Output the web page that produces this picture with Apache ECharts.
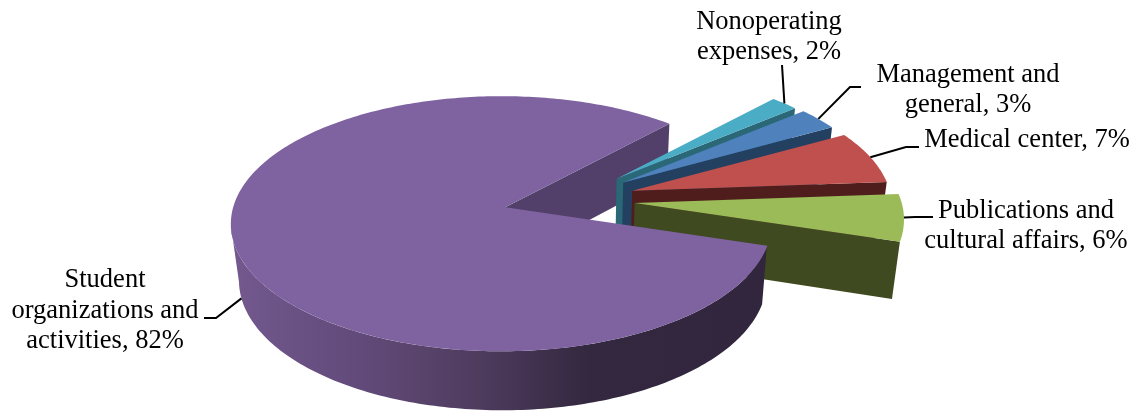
<!DOCTYPE html>
<html>
<head>
<meta charset="utf-8">
<style>html,body{margin:0;padding:0;background:#fff}#chart{width:1135px;height:412px}</style>
<script src="https://cdn.jsdelivr.net/npm/echarts@6/dist/echarts.min.js"></script>
</head>
<body>
<div id="chart"></div>
<script>
// Expense shares, listed clockwise from the first slice.
const categories = ['Management and\ngeneral', 'Medical center', 'Publications and\ncultural affairs',
  'Student\norganizations and\nactivities', 'Nonoperating\nexpenses'];
const shares = [3, 7, 6, 82, 2];

// Appearance of each slice, in the same order.
const topColors = ['#4f81bd', '#c0504d', '#9bbb59', '#7f63a1', '#4bacc6'];
const wallColors = ['#234061', '#4f1e1c', '#3f4a20', '#53406a', '#2a6878'];
const radiusScale = [0.96, 0.975, 1.012, 1, 0.95];

// Label placement: centre of the text, then the leader's elbow and end.
const labelCentres = [[968, 90], [1027, 140], [1026, 226], [105, 311], [769, 37]];
const leaderBends = [[[850, 87], [861, 87]], [[906, 147], [919, 147]], [[915, 217], [933, 217]],
  [[216, 318], [204, 318]], [[782, 65]]];
const leaderOnBase = [false, false, false, true, false];

// Back-to-front painting order; the large slice sits in front of the others.
const paintOrder = [4, 0, 1, 2, 3];
const LARGE = 3;

const FIRST_ANGLE = 49.8;      // clockwise from 12 o'clock
const CENTRE = [569, 199.5];
const EXPLODE = [66, 30];
const RX = 268, RY = 125.4, PITCH = 0.129, YAW = 0.015;
const DEPTH = 57, CONVERGE = 0.976, VANISH_X = 570;

const total = shares.reduce((a, b) => a + b, 0);
const spans = [];
shares.reduce((start, v) => {
  const end = start + v / total * 360;
  spans.push([start, end]);
  return end;
}, FIRST_ANGLE);

const rad = d => d * Math.PI / 180;

function apexOf(i) {
  const mid = rad((spans[i][0] + spans[i][1]) / 2);
  return [CENTRE[0] + EXPLODE[0] * Math.sin(mid), CENTRE[1] - EXPLODE[1] * Math.cos(mid)];
}

// Perspective projection of a point on the tilted disc, on the top or base plane.
function project(i, u, v, base) {
  const a = apexOf(i);
  const w = 1 - PITCH * v + YAW * u;
  const x = a[0] + RX * u / w;
  const y = a[1] + RY * v / w;
  if (!base) return [x, y];
  return [VANISH_X + (x - VANISH_X) * CONVERGE, y + DEPTH + (y - 240) * 0.018];
}

function rim(i, deg, base) {
  const r = radiusScale[i];
  return project(i, r * Math.sin(rad(deg)), -r * Math.cos(rad(deg)), base);
}
const hub = (i, base) => project(i, 0, 0, base);

function arc(i, from, to, base) {
  const pts = [];
  const n = Math.max(2, Math.ceil(Math.abs(to - from)));
  for (let k = 0; k <= n; k++) pts.push(rim(i, from + (to - from) * k / n, base));
  return pts;
}

function polygon(api, pts, fill) {
  return {
    type: 'polygon',
    shape: { points: pts.map(p => api.coord(p)) },
    style: { fill: fill, stroke: null }
  };
}

const largeWallFill = new echarts.graphic.LinearGradient(232, 0, 765, 0, [
  { offset: 0, color: '#73598e' },
  { offset: 0.22, color: '#634b7c' },
  { offset: 0.32, color: '#5c4670' },
  { offset: 0.5, color: '#4a3859' },
  { offset: 0.67, color: '#33283f' },
  { offset: 1, color: '#31263d' }
], true);

function radialWall(api, i) {
  const end = spans[i][1];
  return polygon(api, [hub(i), rim(i, end), rim(i, end, true), hub(i, true)], wallColors[i]);
}

function renderLargeBackWall(params, api) {
  return radialWall(api, api.value(0));
}

function renderSlice(params, api) {
  const i = api.value(0);
  const children = [];
  if (i !== LARGE) children.push(radialWall(api, i));

  // Only the part of the rim that faces the viewer gets an outer wall.
  const from = Math.max(spans[i][0], 108);
  const to = Math.min(spans[i][1], 262);
  if (to > from) {
    const fill = i === LARGE ? largeWallFill : wallColors[i];
    children.push(polygon(api, arc(i, from, to, false).concat(arc(i, to, from, true)), fill));
  }
  children.push(polygon(api, [hub(i)].concat(arc(i, spans[i][0], spans[i][1], false)), topColors[i]));
  return { type: 'group', children: children };
}

function renderLabel(params, api) {
  const i = api.value(0);
  const mid = (spans[i][0] + spans[i][1]) / 2;
  const tip = rim(i, mid, leaderOnBase[i]);
  const line = [tip].concat(leaderBends[i]).map(p => api.coord(p));
  const centre = api.coord(labelCentres[i]);
  return {
    type: 'group',
    children: [
      {
        type: 'polyline',
        shape: { points: line },
        style: { stroke: '#000', lineWidth: 2, fill: null }
      },
      {
        type: 'text',
        style: {
          text: categories[i] + ', ' + shares[i] + '%',
          x: centre[0],
          y: centre[1],
          align: 'center',
          verticalAlign: 'middle',
          fontFamily: '"Liberation Serif", "Times New Roman", serif',
          fontSize: 26.5,
          lineHeight: 30.5,
          fill: '#000'
        }
      }
    ]
  };
}

const chart = echarts.init(document.getElementById('chart'), null, { renderer: 'canvas' });
chart.setOption({
  backgroundColor: '#fff',
  animation: false,
  grid: { left: 0, right: 0, top: 0, bottom: 0 },
  xAxis: { type: 'value', min: 0, max: 1135, show: false },
  yAxis: { type: 'value', min: 0, max: 412, inverse: true, show: false },
  series: [
    { type: 'custom', z: 1, silent: true, clip: false, coordinateSystem: 'cartesian2d',
      renderItem: renderLargeBackWall, data: [[LARGE]], encode: { x: 0, y: 0 } },
    { type: 'custom', z: 2, silent: true, clip: false, coordinateSystem: 'cartesian2d',
      renderItem: renderSlice, data: paintOrder.map(i => [i]), encode: { x: 0, y: 0 } },
    { type: 'custom', z: 3, silent: true, clip: false, coordinateSystem: 'cartesian2d',
      renderItem: renderLabel, data: categories.map((c, i) => [i]), encode: { x: 0, y: 0 } }
  ]
});
</script>
</body>
</html>
